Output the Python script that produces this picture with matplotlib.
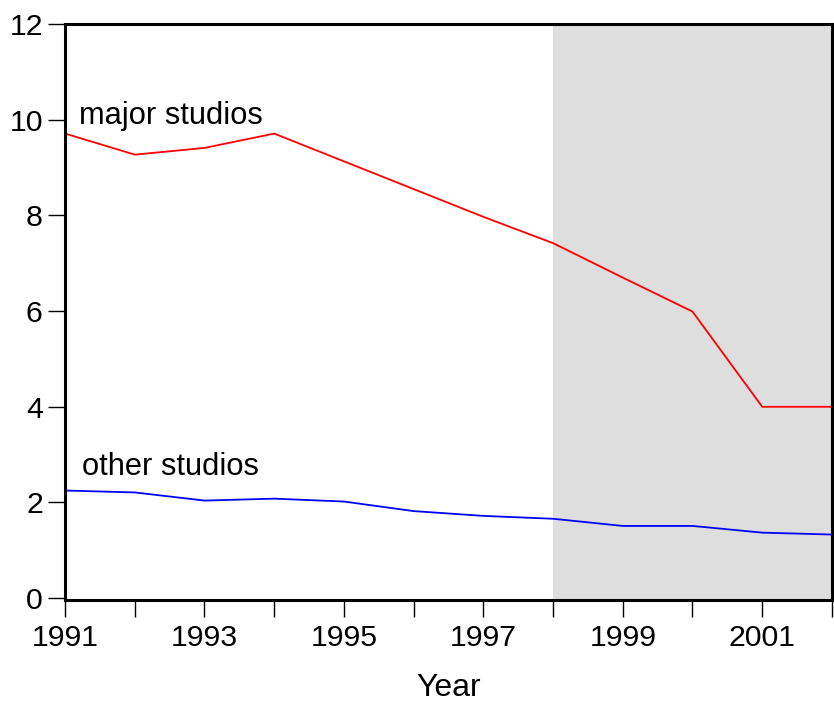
import matplotlib
matplotlib.use("Agg")
import matplotlib.pyplot as plt

years = [1991, 1992, 1993, 1994, 1995, 1996, 1997, 1998, 1999, 2000, 2001, 2002]
major = [9.71, 9.27, 9.41, 9.71, 9.13, 8.55, 7.97, 7.42, 6.70, 5.99, 4.00, 4.00]
other = [2.25, 2.21, 2.04, 2.08, 2.02, 1.82, 1.72, 1.66, 1.51, 1.51, 1.37, 1.33]
shade_span = (1998, 2002)
xtick_labels = ["1991", "1993", "1995", "1997", "1999", "2001"]
ytick_values = [0, 2, 4, 6, 8, 10, 12]

plt.rcParams['font.family'] = ['Liberation Sans', 'DejaVu Sans']

fig = plt.figure(figsize=(8.34, 7.06), dpi=100)
ax = fig.add_axes([0.078, 0.150, 0.9195, 0.816])

ax.axvspan(shade_span[0], shade_span[1], color='#DEDEDE', lw=0, zorder=0)
ax.plot(years, major, color='#FF0000', lw=1.3, zorder=2)
ax.plot(years, other, color='#0000FF', lw=1.3, zorder=2)

ax.text(1991.2, 9.92, "major studios", fontsize=22.2, ha='left', va='baseline')
ax.text(1991.24, 2.57, "other studios", fontsize=22.2, ha='left', va='baseline')

ax.set_xlim(1991, 2002)
ax.set_ylim(-0.04, 12)
ax.set_xticks(years)
ax.set_xticklabels([str(y) if str(y) in xtick_labels else "" for y in years])
ax.set_yticks(ytick_values)
ax.set_yticklabels([str(v) for v in ytick_values])

ax.tick_params(axis='both', direction='out', length=12, width=1.0, labelsize=21.8,
               color='black')
ax.tick_params(axis='y', pad=4)
ax.tick_params(axis='x', pad=5)
for s in ax.spines.values():
    s.set_linewidth(2.2)
    s.set_color('black')

ax.set_xlabel("Year", fontsize=23, labelpad=15)

fig.savefig("out.png", dpi=100)
